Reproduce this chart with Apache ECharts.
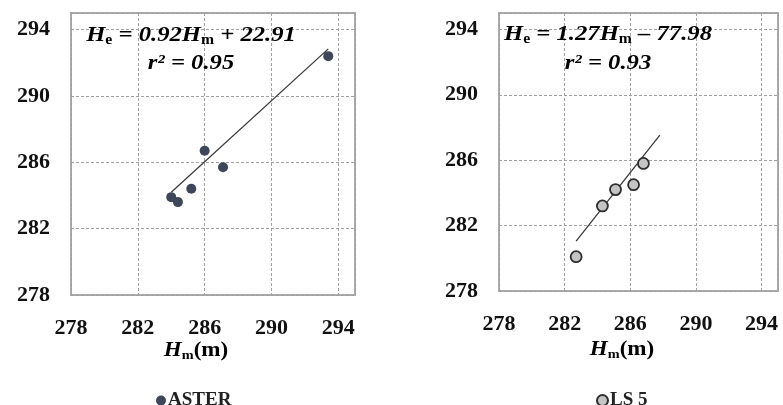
<!DOCTYPE html>
<html>
<head>
<meta charset="utf-8">
<script src="https://cdn.jsdelivr.net/npm/echarts@6/dist/echarts.min.js"></script>
<style>
  html, body { margin: 0; padding: 0; background: #fff; }
  #chart { width: 783px; height: 405px; }
</style>
</head>
<body>
<div id="chart"></div>
<script>
// Measured vs. estimated heights (m)
const asterHm = [293.4, 286.0, 287.1, 285.2, 284.0, 284.4];
const asterHe = [292.4, 286.7, 285.7, 284.4, 283.9, 283.6];
const ls5Hm = [282.7, 284.3, 285.1, 286.2, 286.8];
const ls5He = [280.1, 283.2, 284.2, 284.5, 285.8];

// Linear fits: He = slope * Hm + intercept
const asterFit = { slope: 0.92, intercept: 22.91, r2: 0.95, from: 284.0, to: 293.4 };
const ls5Fit = { slope: 1.27, intercept: -77.98, r2: 0.93, from: 282.7, to: 287.8 };

const axisTicks = [278, 282, 286, 290, 294];
const axisMin = 278, axisMax = 295, axisStep = 4;

const serif = '"Liberation Serif", "Times New Roman", serif';

function fitLine(f) {
  return [f.from, f.to].map(x => [x, +(f.slope * x + f.intercept).toFixed(3)]);
}
function pairs(xs, ys) { return xs.map((x, i) => [x, ys[i]]); }

function valueAxis(idx, isX) {
  return {
    type: 'value',
    gridIndex: idx,
    min: axisMin, max: axisMax, interval: axisStep,
    axisLine: { show: false },
    axisTick: { show: false },
    axisLabel: {
      margin: isX ? 22 : 21,
      fontFamily: serif, fontWeight: 'bold', fontSize: 22, color: '#111',
      formatter: v => axisTicks.includes(v) ? String(v) : ''
    },
    splitLine: { show: true, lineStyle: { color: '#a0a0a0', type: [3, 2], width: 1 } }
  };
}

function eqText(f) {
  const sign = f.intercept < 0 ? ' \u2013 ' : ' + ';
  return '{i|H}{s|e}{i| = ' + f.slope.toFixed(2) + 'H}{s|m}{i|' + sign + Math.abs(f.intercept).toFixed(2) + '}';
}
const eqRich = {
  i: { fontFamily: serif, fontStyle: 'italic', fontWeight: 'bold', fontSize: 22, color: '#222' },
  s: { fontFamily: serif, fontWeight: 'bold', fontSize: 14, color: '#222', padding: [10, 0, 0, 0] }
};
const nameRich = {
  i: { fontFamily: serif, fontStyle: 'italic', fontWeight: 'bold', fontSize: 21, color: '#222' },
  s: { fontFamily: serif, fontWeight: 'bold', fontSize: 13, color: '#222', padding: [9, 0, 0, 0] },
  n: { fontFamily: serif, fontWeight: 'bold', fontSize: 21, color: '#222' }
};

function label(x, y, text, rich, sx) {
  return {
    type: 'text', x: x, y: y, z: 10, scaleX: sx || 1,
    style: { text: text, rich: rich, align: 'center', verticalAlign: 'middle' }
  };
}

const chart = echarts.init(document.getElementById('chart'));
chart.setOption({
  backgroundColor: '#fff',
  animation: false,
  grid: [
    { left: 71, top: 13, width: 284, height: 282, show: true, borderColor: '#aaaaaa', borderWidth: 2, backgroundColor: 'transparent' },
    { left: 499, top: 13, width: 279, height: 278, show: true, borderColor: '#aaaaaa', borderWidth: 2, backgroundColor: 'transparent' }
  ],
  xAxis: [valueAxis(0, true), valueAxis(1, true)],
  yAxis: [valueAxis(0, false), valueAxis(1, false)],
  legend: [
    { data: ['ASTER'], left: 151, top: 386, itemWidth: 10, itemHeight: 10, itemGap: 4,
      textStyle: { fontFamily: serif, fontWeight: 'bold', fontSize: 19, color: '#222', padding: [0, 0, 0, -3] } },
    { data: ['LS 5'], left: 591, top: 386, itemWidth: 11, itemHeight: 11, itemGap: 4,
      textStyle: { fontFamily: serif, fontWeight: 'bold', fontSize: 19, color: '#222', padding: [0, 0, 0, -3] } }
  ],
  series: [
    {
      name: 'ASTER', type: 'scatter', xAxisIndex: 0, yAxisIndex: 0,
      symbol: 'circle', symbolSize: 10,
      itemStyle: { color: '#3e4659', opacity: 1 },
      data: pairs(asterHm, asterHe), z: 3
    },
    {
      name: 'ASTER fit', type: 'line', xAxisIndex: 0, yAxisIndex: 0,
      symbol: 'none', lineStyle: { color: '#3a3a3a', width: 1.3 },
      data: fitLine(asterFit), z: 2
    },
    {
      name: 'LS 5', type: 'scatter', xAxisIndex: 1, yAxisIndex: 1,
      symbol: 'circle', symbolSize: 11,
      itemStyle: { color: '#c4c4c4', borderColor: '#2e2e2e', borderWidth: 1.8, opacity: 1 },
      data: pairs(ls5Hm, ls5He), z: 3
    },
    {
      name: 'LS 5 fit', type: 'line', xAxisIndex: 1, yAxisIndex: 1,
      symbol: 'none', lineStyle: { color: '#3a3a3a', width: 1.3 },
      data: fitLine(ls5Fit), z: 2
    }
  ],
  graphic: [
    label(191, 35, eqText(asterFit), eqRich, 1.12),
    label(191, 63, '{i|r\u00b2 = ' + asterFit.r2.toFixed(2) + '}', eqRich, 1.12),
    label(608, 34, eqText(ls5Fit), eqRich, 1.12),
    label(608, 63, '{i|r\u00b2 = ' + ls5Fit.r2.toFixed(2) + '}', eqRich, 1.12),
    label(196, 351, '{i|H}{s|m}{n|(m)}', nameRich, 1.1),
    label(622, 350, '{i|H}{s|m}{n|(m)}', nameRich, 1.1)
  ]
});
</script>
</body>
</html>
